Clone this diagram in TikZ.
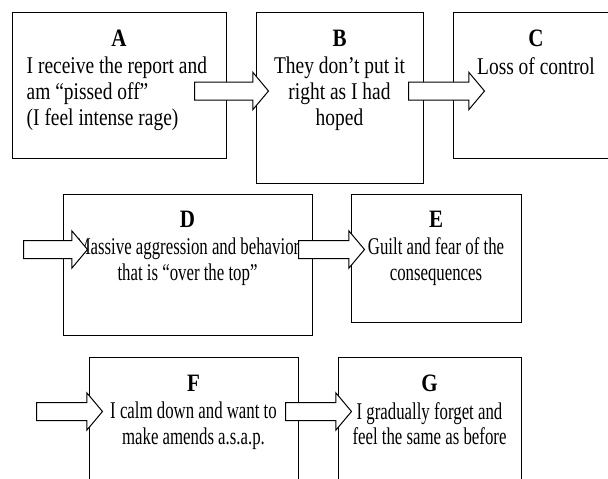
\documentclass[tikz,border=0pt]{standalone}
\usepackage{fontspec}
\setmainfont{Liberation Serif}[FakeStretch=0.81]
\newfontfamily\narrowfont{Liberation Serif}[FakeStretch=0.70]
\newfontfamily\ttlfont{Liberation Serif}[FakeStretch=0.84]
\newcommand\bodysize{\fontsize{24}{26}\selectfont}
\usetikzlibrary{shapes.arrows}

\begin{document}
\begin{tikzpicture}[x=1pt, y=-1pt, font=\bodysize,
  stage/.style={draw, line width=1pt, inner sep=0pt},
  ttl/.style={font=\ttlfont\bfseries\fontsize{25}{26}\selectfont, anchor=base, inner sep=0pt},
  txt/.style={font=\bodysize, align=center, anchor=north, inner sep=0pt},
  lowtxt/.style={txt, font=\narrowfont\fontsize{24}{25.5}\selectfont},
  bigarrow/.style={single arrow, draw, fill=white, line width=1pt, inner xsep=0pt,
    inner ysep=8.5pt, single arrow head extend=9.5pt, single arrow tip angle=100, anchor=tail}]
  \clip (0,0) rectangle (608,479);
  % boxes
  \node[stage, minimum width=214pt, minimum height=146pt] (boxA) at (119,85) {};
  \node[stage, minimum width=167pt, minimum height=171pt] (boxB) at (339.5,97.5) {};
  \node[stage, minimum width=166pt, minimum height=146pt] (boxC) at (536,85) {};
  \node[stage, minimum width=249pt, minimum height=141pt] (boxD) at (187.5,264.5) {};
  \node[stage, minimum width=170pt, minimum height=128pt] (boxE) at (436,258) {};
  \node[stage, minimum width=209pt, minimum height=133pt] (boxF) at (193.5,423.5) {};
  \node[stage, minimum width=183pt, minimum height=133pt] (boxG) at (429.5,423.5) {};
  % labels
  \node[ttl] (ttlA) at ([yshift=-34.5pt]boxA.north) {A};
  \node[ttl] (ttlB) at ([yshift=-34.5pt]boxB.north) {B};
  \node[ttl] (ttlC) at ([yshift=-34.5pt]boxC.north) {C};
  \node[ttl] (ttlD) at ([yshift=-33.5pt]boxD.north) {D};
  \node[ttl] (ttlE) at ([yshift=-34pt]boxE.north) {E};
  \node[ttl] (ttlF) at ([yshift=-35pt]boxF.north) {F};
  \node[ttl] (ttlG) at ([yshift=-35pt]boxG.north) {G};
  \node[txt, align=left, anchor=north west] (txtA) at ([xshift=15pt, yshift=-45.5pt]boxA.north west)
    {I receive the report and\\am “pissed off”\\(I feel intense rage)};
  \node[txt] (txtB) at ([yshift=-45.5pt]boxB.north) {They don’t put it\\right as I had\\hoped};
  \node[txt] (txtC) at ([yshift=-45.5pt]boxC.north) {Loss of control};
  \node[lowtxt] (txtD) at ([yshift=-44.5pt]boxD.north) {Massive aggression and behavior\\that is “over the top”};
  \node[lowtxt] (txtE) at ([yshift=-44pt]boxE.north) {Guilt and fear of the\\consequences};
  \node[lowtxt] (txtF) at ([yshift=-45.5pt]boxF.north) {I calm down and want to\\make amends a.s.a.p.};
  \node[lowtxt] (txtG) at ([yshift=-45.5pt]boxG.north) {I gradually forget and\\feel the same as before};
  % arrows
  \node[bigarrow, minimum height=74pt] (arAB) at (194,91) {};
  \node[bigarrow, minimum height=76pt] (arBC) at (408,91) {};
  \node[bigarrow, minimum height=64pt] (arCD) at (23,249.5) {};
  \node[bigarrow, minimum height=66pt] (arDE) at (298,249.5) {};
  \node[bigarrow, minimum height=66pt] (arEF) at (36,411.5) {};
  \node[bigarrow, minimum height=66pt] (arFG) at (285,411.5) {};
\end{tikzpicture}
\end{document}
